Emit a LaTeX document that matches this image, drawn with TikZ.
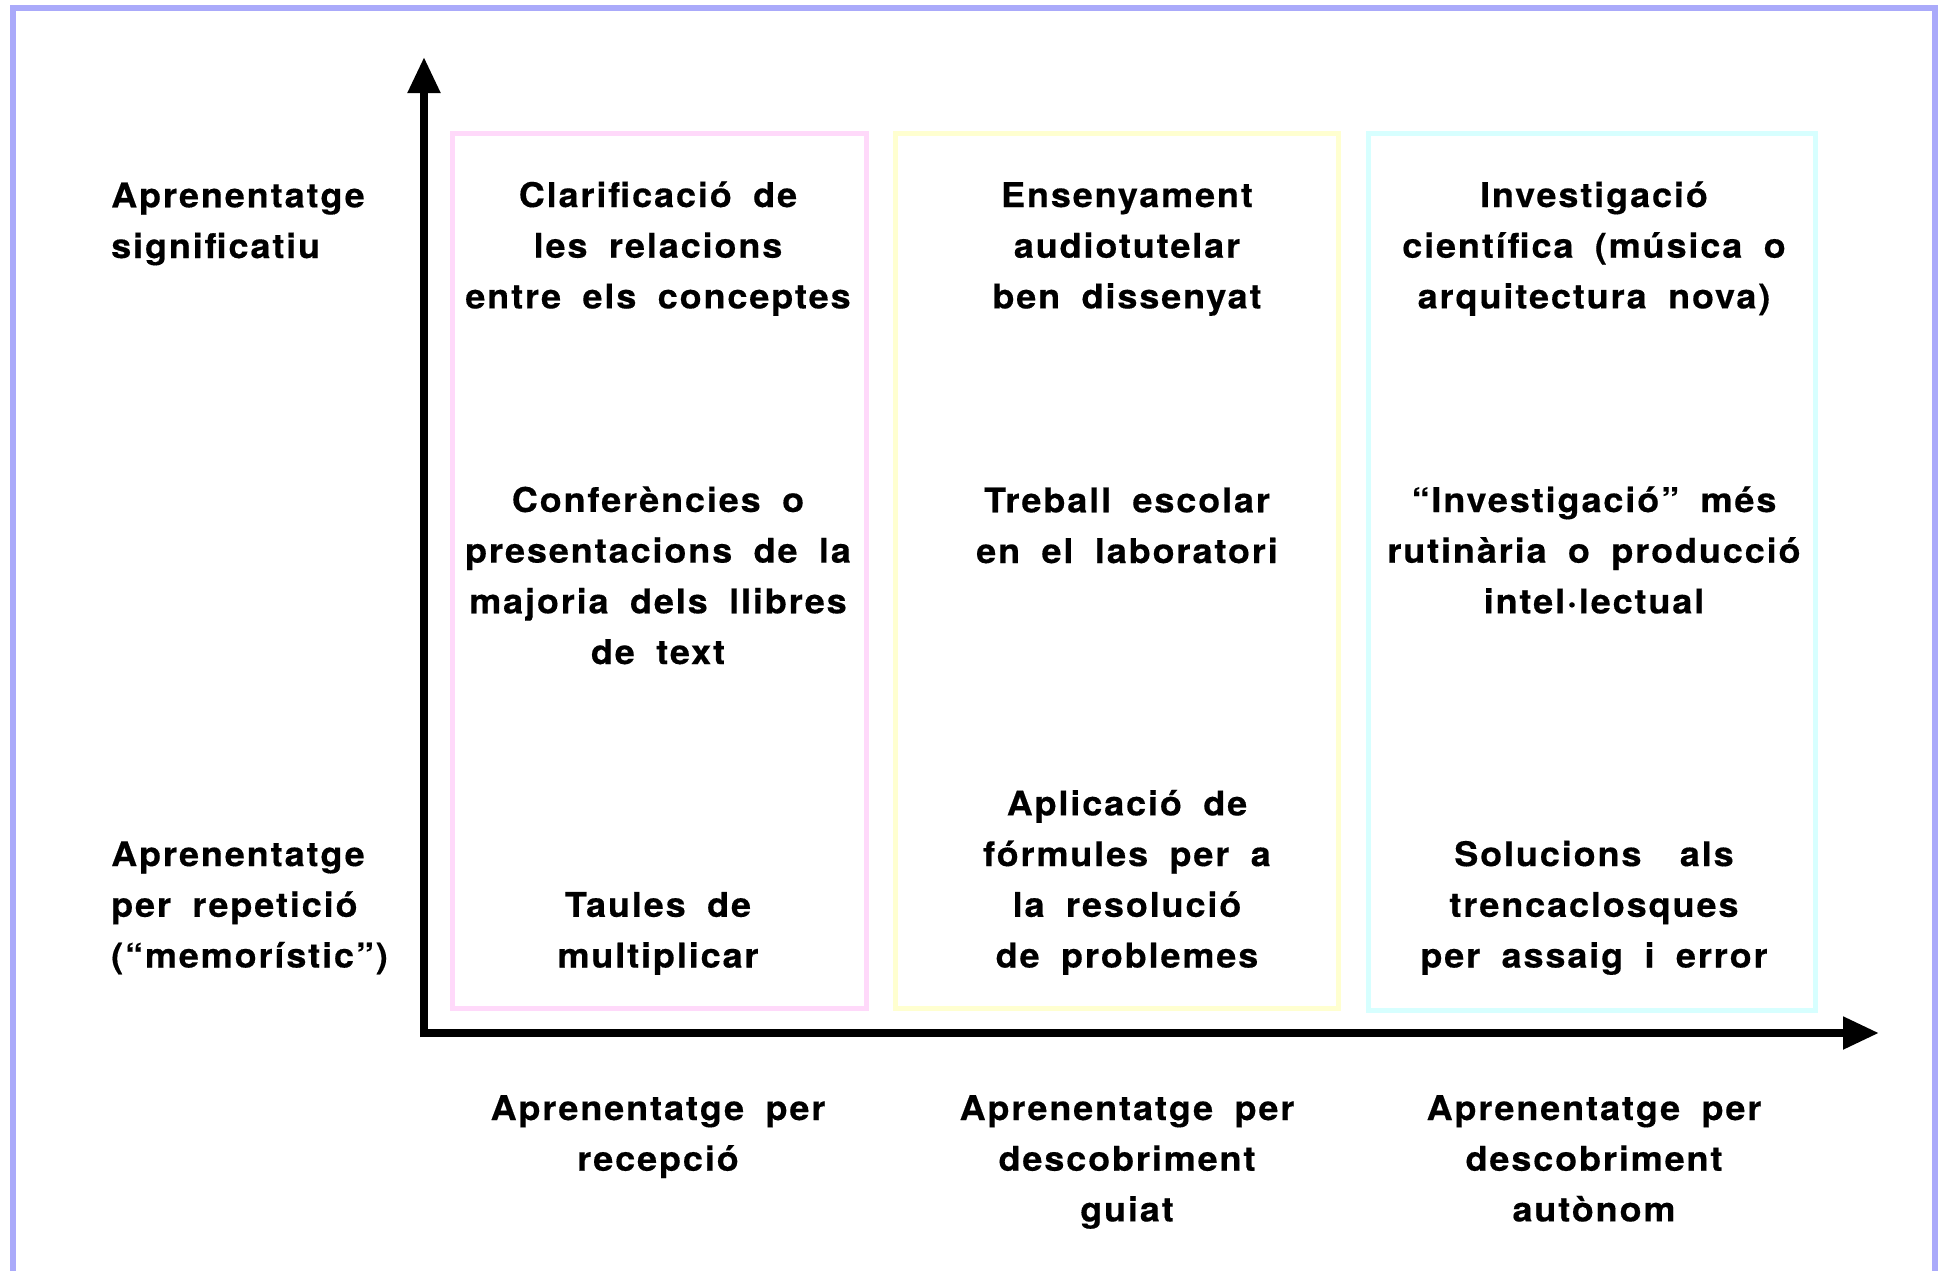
\documentclass[tikz,border=0pt]{standalone}
\usepackage{fontspec}
\setmainfont{TeX Gyre Heros}[LetterSpace=5.5,WordSpace=1.8,BoldFeatures={FakeBold=0.4,FakeStretch=1.06}]
\usetikzlibrary{arrows.meta}
\definecolor{framec}{RGB}{170,170,250}
\definecolor{pinkc}{RGB}{255,217,250}
\definecolor{yellowc}{RGB}{255,255,208}
\definecolor{cyanc}{RGB}{215,255,255}
\tikzset{
  lbl/.style={align=center,anchor=base,inner sep=0pt,font=\bfseries\fontsize{34}{50.7}\selectfont},
  leftlbl/.style={align=left,anchor=base west,inner sep=0pt,font=\bfseries\fontsize{34}{50.7}\selectfont},
  colbox/.style={line width=5pt},
  axis/.style={line width=8pt,-{Triangle[length=36pt,width=31pt]}}
}
\begin{document}
\begin{tikzpicture}[x=1pt,y=-1pt]
\useasboundingbox (0,0) rectangle (1939,1270);
\draw[framec,line width=5.5pt] (13,1300) -- (13,8) -- (1935,8) -- (1935,1300);
% column boxes
\draw[colbox,pinkc] (452.5,133.5) rectangle (866.5,1008.5);
\draw[colbox,yellowc] (895.5,133.5) rectangle (1338.5,1008.5);
\draw[colbox,cyanc] (1368,133.5) rectangle (1815,1010);
% axes
\coordinate (Ov) at (424,1037);
\coordinate (Oh) at (420,1033);
\coordinate (ytop) at (424,57);
\coordinate (xend) at (1879,1033);
\draw[axis] (Ov) -- (ytop);
\draw[axis] (Oh) -- (xend);
% left labels (anchor = baseline of last line)
\node[leftlbl] (ls) at (111,258) {Aprenentatge\\significatiu};
\node[leftlbl] (lr) at (111,967.5) {Aprenentatge\\per repetició\\(“memorístic”)};
% pink column
\node[lbl] (p1) at (658,308.4) {Clarificació de\\les relacions\\entre els conceptes};
\node[lbl] (p2) at (658,664) {Conferències o\\presentacions de la\\majoria dels llibres\\de text};
\node[lbl] (p3) at (658,967.5) {Taules de\\multiplicar};
% yellow column
\node[lbl] (y1) at (1127,308.4) {Ensenyament\\audiotutelar\\ben dissenyat};
\node[lbl] (y2) at (1127,563) {Treball escolar\\en el laboratori};
\node[lbl] (y3) at (1127,967.5) {Aplicació de\\fórmules per a\\la resolució\\de problemes};
% cyan column
\node[lbl] (c1) at (1594,308.4) {Investigació\\científica (música o\\arquitectura nova)};
\node[lbl] (c2) at (1594,613.4) {“Investigació” més\\rutinària o producció\\intel·lectual};
\node[lbl] (c3) at (1594,967.5) {Solucions\hspace{0.5em} als\\trencaclosques\\per assaig i error};
% bottom labels
\node[lbl] (b1) at (658,1170.7) {Aprenentatge per\\recepció};
\node[lbl] (b2) at (1127,1221.4) {Aprenentatge per\\descobriment\\guiat};
\node[lbl] (b3) at (1594,1221.4) {Aprenentatge per\\descobriment\\autònom};
\end{tikzpicture}
\end{document}
